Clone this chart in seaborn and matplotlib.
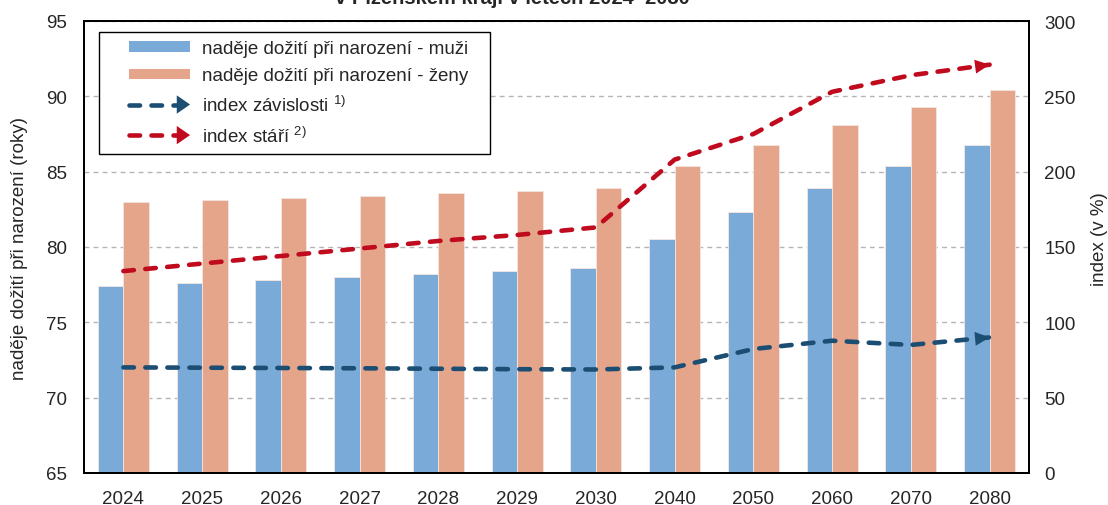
import numpy as np
import pandas as pd
import matplotlib
matplotlib.use('Agg')
import matplotlib.pyplot as plt
import seaborn as sns
from matplotlib.legend_handler import HandlerBase
from matplotlib.lines import Line2D
from matplotlib.patches import Patch, Rectangle, Polygon

# data
roky = ['2024', '2025', '2026', '2027', '2028', '2029', '2030',
        '2040', '2050', '2060', '2070', '2080']
muzi = [77.4, 77.6, 77.8, 78.0, 78.2, 78.4, 78.6, 80.5, 82.3, 83.9, 85.4, 86.8]
zeny = [83.0, 83.1, 83.25, 83.4, 83.6, 83.75, 83.9, 85.4, 86.8, 88.1, 89.3, 90.4]
index_zavislosti = [70.1, 69.9, 69.7, 69.5, 69.2, 68.9, 68.7, 70.1, 82.3, 87.8, 85.0, 90.0]
index_stari = [134, 139, 144, 149, 154, 158, 163, 208, 225, 253, 264, 271]

MODRA = '#7aaad8'
ORANZ = '#e4a58a'
TMAVE_MODRA = '#1b4e72'
CERVENA = '#c00a1e'
CARKY = (0, (2.3, 2.5))
LW = 3.3
FS = 13.5

sns.set_theme(style='white')
plt.rcParams['font.family'] = ['Liberation Sans', 'DejaVu Sans']
plt.rcParams['mathtext.default'] = 'regular'

fig = plt.figure(figsize=(11.08, 5.06), dpi=100)
ax = fig.add_axes([84 / 1108, 1 - 474 / 506, 945 / 1108, 452 / 506])

df = pd.DataFrame({
    'rok': roky * 2,
    'hodnota': muzi + zeny,
    'pohlavi': ['muži'] * len(roky) + ['ženy'] * len(roky),
})
sns.barplot(data=df, x='rok', y='hodnota', hue='pohlavi', palette=[MODRA, ORANZ],
            width=0.65, ax=ax, legend=False, edgecolor='#f3e6e0', linewidth=0.6,
            saturation=1)

ax.set_xlim(-0.5, 11.5)
ax.set_ylim(65, 95)
ax.set_yticks(range(65, 96, 5))
ax.yaxis.grid(True, linestyle=(0, (3.5, 3)), color='#b4b4b4', lw=1)
ax.xaxis.grid(False)
ax.set_axisbelow(True)
ax.set_xlabel('')
ax.set_ylabel('naděje dožití při narození (roky)', fontsize=FS)
ax.yaxis.set_label_coords(-0.059, 0.5)
ax.tick_params(axis='y', length=0, pad=12, labelsize=FS)
ax.tick_params(axis='x', length=0, pad=12, labelsize=FS)
for s in ax.spines.values():
    s.set_color('black')
    s.set_linewidth(1.4)

ax2 = ax.twinx()
ax2.set_ylim(0, 300)
ax2.set_yticks(range(0, 301, 50))
ax2.tick_params(axis='y', length=0, pad=11, labelsize=FS)
ax2.set_ylabel('index (v %)', fontsize=FS)
ax2.yaxis.set_label_coords(1.066, 0.52)
ax2.grid(False)
for s in ax2.spines.values():
    s.set_color('black')
    s.set_linewidth(1.4)

x = np.arange(len(roky))
for hodnoty, barva in [(index_zavislosti, TMAVE_MODRA), (index_stari, CERVENA)]:
    ax2.plot(x, hodnoty, color=barva, lw=LW, linestyle=CARKY, dash_capstyle='round')
    t = 0.82
    ax2.annotate('', xy=(x[-1], hodnoty[-1]),
                 xytext=(x[-2] + t, hodnoty[-2] + t * (hodnoty[-1] - hodnoty[-2])),
                 arrowprops=dict(arrowstyle='-|>,head_length=0.42,head_width=0.2',
                                 mutation_scale=25, color=barva, lw=0,
                                 shrinkA=0, shrinkB=0))


class Znacka(HandlerBase):
    def create_artists(self, legend, orig_handle, xdescent, ydescent, width, height,
                       fontsize, trans):
        yc = height / 2 - ydescent
        x1 = width - xdescent
        if isinstance(orig_handle, Patch):
            w = width * 0.735
            h = height * 0.8
            r = Rectangle((x1 - w, yc - h / 2), w, h,
                          facecolor=orig_handle.get_facecolor(), edgecolor='none',
                          transform=trans)
            return [r]
        barva = orig_handle.get_color()
        x0 = x1 - width * 0.77
        hl = width * 0.16
        hw = height * 0.7
        car = Line2D([x0 + 2, x1 - hl], [yc, yc], color=barva, lw=LW, linestyle=CARKY,
                     dash_capstyle='round', transform=trans)
        hlava = Polygon([[x1 - hl, yc - hw], [x1, yc], [x1 - hl, yc + hw]], closed=True,
                        facecolor=barva, edgecolor='none', transform=trans)
        return [car, hlava]


handles = [Patch(color=MODRA), Patch(color=ORANZ),
           Line2D([], [], color=TMAVE_MODRA), Line2D([], [], color=CERVENA)]
labels = ['naděje dožití při narození - muži', 'naděje dožití při narození - ženy',
          'index závislosti $^{1)}$', 'index stáří $^{2)}$']
leg = ax2.legend(handles, labels, loc='upper left',
                 bbox_to_anchor=(0.016, 0.5, 0.4138, 0.476), mode='expand',
                 borderaxespad=0, fontsize=FS, handlelength=4.43, handletextpad=0.64,
                 borderpad=0.42, labelspacing=0.56, fancybox=False, framealpha=1,
                 edgecolor='black', handler_map={Patch: Znacka(), Line2D: Znacka()})
leg.get_frame().set_linewidth(1.0)

fig.text(512 / 1108, 1 - 4 / 506, 'v Plzeňském kraji v letech 2024–2080',
         ha='center', va='baseline', fontsize=14.5, fontweight='bold')

fig.savefig('out.png', dpi=100)
